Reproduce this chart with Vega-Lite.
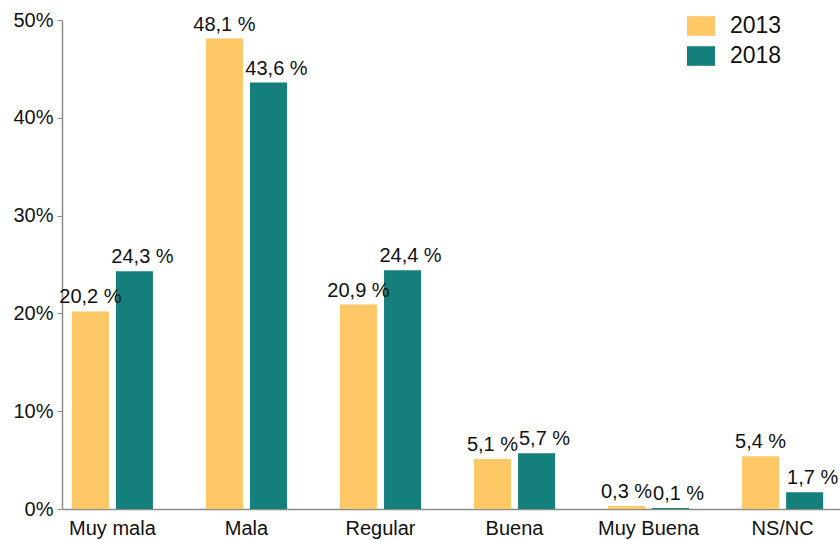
{
  "$schema": "https://vega.github.io/schema/vega-lite/v6.json",
  "width": 778,
  "height": 489,
  "autosize": "none",
  "padding": {"left": 62, "top": 20, "right": 0, "bottom": 31},
  "background": "white",
  "config": {
    "view": {"stroke": null},
    "font": "Liberation Sans",
    "locale": {
      "number": {
        "decimal": ",",
        "thousands": ".",
        "grouping": [3],
        "currency": ["", " €"],
        "percent": " %"
      }
    }
  },
  "data": {
    "values": [
      {"categoria": "Muy mala", "anio": "2013", "valor": 0.202},
      {"categoria": "Muy mala", "anio": "2018", "valor": 0.243},
      {"categoria": "Mala", "anio": "2013", "valor": 0.481},
      {"categoria": "Mala", "anio": "2018", "valor": 0.436},
      {"categoria": "Regular", "anio": "2013", "valor": 0.209},
      {"categoria": "Regular", "anio": "2018", "valor": 0.244},
      {"categoria": "Buena", "anio": "2013", "valor": 0.051},
      {"categoria": "Buena", "anio": "2018", "valor": 0.057},
      {"categoria": "Muy Buena", "anio": "2013", "valor": 0.003},
      {"categoria": "Muy Buena", "anio": "2018", "valor": 0.001},
      {"categoria": "NS/NC", "anio": "2013", "valor": 0.054},
      {"categoria": "NS/NC", "anio": "2018", "valor": 0.017}
    ]
  },
  "encoding": {
    "x": {
      "field": "categoria",
      "type": "nominal",
      "sort": ["Muy mala", "Mala", "Regular", "Buena", "Muy Buena", "NS/NC"],
      "scale": {"paddingInner": 0.3955, "paddingOuter": 0.1, "align": 0.37},
      "axis": {
        "title": null,
        "labelAngle": 0,
        "labelFontSize": 20,
        "labelColor": "#111",
        "labelPadding": 9,
        "ticks": false,
        "domainColor": "#8c8c8c",
        "domainWidth": 1.5
      }
    },
    "xOffset": {
      "field": "anio",
      "type": "nominal",
      "scale": {"paddingInner": 0.16, "paddingOuter": 0}
    },
    "y": {
      "field": "valor",
      "type": "quantitative",
      "scale": {"domain": [0, 0.5], "nice": false},
      "axis": {
        "title": null,
        "grid": false,
        "values": [0, 0.1, 0.2, 0.3, 0.4, 0.5],
        "labelExpr": "round(datum.value * 100) + '%'",
        "labelFontSize": 20,
        "labelColor": "#111",
        "labelPadding": 4,
        "tickSize": 5,
        "tickColor": "#8c8c8c",
        "domainColor": "#8c8c8c",
        "domainWidth": 1.5
      }
    }
  },
  "layer": [
    {
      "mark": {"type": "bar"},
      "encoding": {
        "color": {
          "field": "anio",
          "type": "nominal",
          "scale": {"domain": ["2013", "2018"], "range": ["#FDC865", "#147F7B"]},
          "legend": {
            "title": null,
            "orient": "none",
            "legendX": 625,
            "legendY": -8,
            "labelFontSize": 23,
            "labelColor": "#111",
            "labelOffset": 15,
            "symbolType": "M-1,-0.7L1,-0.7L1,0.7L-1,0.7Z",
            "symbolSize": 784,
            "symbolStrokeWidth": 0,
            "rowPadding": 4
          }
        }
      }
    },
    {
      "transform": [{"filter": "datum.anio === '2013'"}],
      "mark": {
        "type": "text",
        "baseline": "alphabetic",
        "align": "center",
        "dx": 0,
        "dy": -8,
        "fontSize": 20,
        "color": "#111"
      },
      "encoding": {
        "text": {"field": "valor", "type": "quantitative", "format": ".1%"}
      }
    },
    {
      "transform": [{"filter": "datum.anio === '2018'"}],
      "mark": {
        "type": "text",
        "baseline": "alphabetic",
        "align": "center",
        "dx": 8,
        "dy": -8,
        "fontSize": 20,
        "color": "#111"
      },
      "encoding": {
        "text": {"field": "valor", "type": "quantitative", "format": ".1%"}
      }
    }
  ]
}
